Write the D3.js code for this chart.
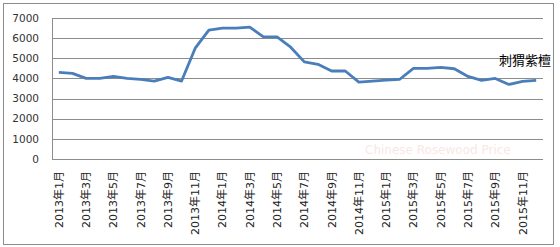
<!DOCTYPE html>
<html lang="zh">
<head>
<meta charset="utf-8">
<script src="https://d3js.org/d3.v7.min.js"></script>
<style>
  body { margin: 0; background: #fff; }
  svg { display: block; }
  .ytick text { font-family: "DejaVu Sans", sans-serif; font-size: 10.5px; fill: #333; }
  .xtick text { font-family: "DejaVu Sans", "Noto Sans CJK SC", sans-serif; font-size: 11px; fill: #222; }
</style>
</head>
<body>
<div id="chart"></div>
<script>
// monthly price, 2013-01 .. 2015-12
var years = [2013, 2014, 2015];
var months = d3.range(1, 13);
var prices = [
  4300, 4250, 4000, 4000, 4100, 4000, 3950, 3870, 4050, 3870, 5500, 6400,
  6500, 6500, 6550, 6060, 6060, 5550, 4820, 4700, 4370, 4370, 3820, 3870,
  3920, 3960, 4500, 4500, 4550, 4480, 4100, 3900, 4000, 3700, 3850, 3900
];
var yTicks = [0, 1000, 2000, 3000, 4000, 5000, 6000, 7000];
var seriesName = "刺猬紫檀";

var categories = [];
years.forEach(function(y) { months.forEach(function(m) { categories.push(y + "年" + m + "月"); }); });

var W = 560, H = 247;
var margin = {left: 52, right: 17, top: 18, bottom: 88};

var svg = d3.select("#chart").append("svg")
  .attr("width", W).attr("height", H);

// outer frame
svg.append("rect")
  .attr("x", 3.5).attr("y", 3.5)
  .attr("width", 550).attr("height", 241)
  .attr("fill", "#fff").attr("stroke", "#8c8c8c").attr("stroke-width", 1);

var x = d3.scaleBand()
  .domain(categories)
  .range([margin.left, W - margin.right]);

var y = d3.scaleLinear()
  .domain([0, 7000])
  .range([H - margin.bottom, margin.top]);

// gridlines
svg.append("g").selectAll("line")
  .data(yTicks).enter().append("line")
  .attr("x1", margin.left).attr("x2", W - margin.right)
  .attr("y1", function(d) { return Math.round(y(d)) + 0.5; })
  .attr("y2", function(d) { return Math.round(y(d)) + 0.5; })
  .attr("stroke", "#8c8c8c").attr("stroke-width", 1);

// left axis line
svg.append("line")
  .attr("x1", margin.left + 0.5).attr("x2", margin.left + 0.5)
  .attr("y1", Math.round(y(7000)) + 0.5).attr("y2", Math.round(y(0)) + 0.5)
  .attr("stroke", "#8c8c8c");

// y labels
svg.append("g").attr("class", "ytick").selectAll("text")
  .data(yTicks).enter().append("text")
  .attr("x", margin.left - 13)
  .attr("y", function(d) { return y(d); })
  .attr("dy", "0.35em")
  .attr("text-anchor", "end")
  .text(function(d) { return d; });

// x labels, every other month, rotated
svg.append("g").attr("class", "xtick").selectAll("text")
  .data(categories.filter(function(d, i) { return i % 2 === 0; }))
  .enter().append("text")
  .attr("transform", function(d) {
    return "translate(" + (x(d) + x.bandwidth() / 2 + 4) + "," + (y(0) + 12) + ") rotate(-90)";
  })
  .attr("text-anchor", "end")
  .text(function(d) { return d; });

// faint watermark
svg.append("text")
  .attr("x", 365).attr("y", 154)
  .attr("font-family", "DejaVu Sans, sans-serif")
  .attr("font-size", 12)
  .attr("fill", "#f4b8b8")
  .attr("opacity", 0.35)
  .text("Chinese Rosewood Price");

// line
var line = d3.line()
  .x(function(d, i) { return x(categories[i]) + x.bandwidth() / 2; })
  .y(function(d) { return y(d); });

svg.append("path")
  .datum(prices)
  .attr("d", line)
  .attr("fill", "none")
  .attr("stroke", "#4a7ebb")
  .attr("stroke-width", 2.8)
  .attr("stroke-linejoin", "round");

// series label
svg.append("text")
  .attr("x", 499).attr("y", 65)
  .attr("font-family", "Noto Sans CJK SC, sans-serif")
  .attr("font-size", 13)
  .attr("fill", "#000")
  .text(seriesName);
</script>
</body>
</html>
